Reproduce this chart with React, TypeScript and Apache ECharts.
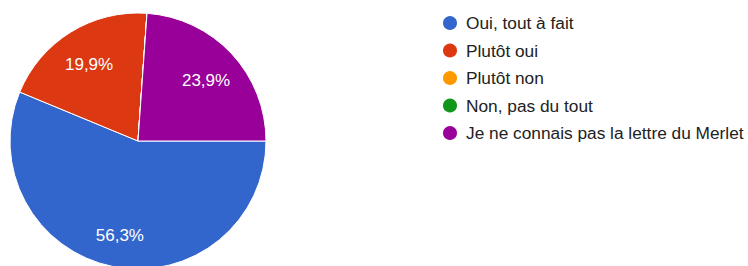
import React, { useEffect, useRef } from "react";
import * as echarts from "echarts";

const categories = [
  "Oui, tout à fait",
  "Plutôt oui",
  "Plutôt non",
  "Non, pas du tout",
  "Je ne connais pas la lettre du Merlet",
];
const values = [56.3, 19.9, 0, 0, 23.9];
const colors = ["#3366cc", "#dc3912", "#ff9900", "#109618", "#990099"];

const FONT = "Arial, 'Liberation Sans', sans-serif";

export default function App() {
  const ref = useRef<HTMLDivElement>(null);
  useEffect(() => {
    if (!ref.current) return;
    const chart = echarts.init(ref.current, undefined, { renderer: "svg" });
    const data = categories.map((name, i) => ({
      name,
      value: values[i],
      itemStyle: { color: colors[i] },
    }));
    chart.setOption({
      animation: false,
      backgroundColor: "#ffffff",
      legend: {
        orient: "vertical",
        left: 436,
        top: 9,
        icon: "circle",
        itemWidth: 22,
        itemHeight: 16,
        itemGap: 9.5,
        selectedMode: false,
        data: categories,
        textStyle: { fontFamily: FONT, fontSize: 17.3, color: "#222222" },
      },
      series: [
        {
          type: "pie",
          center: [138, 141],
          radius: [0, 128],
          startAngle: 0,
          clockwise: true,
          silent: true,
          label: { show: false },
          labelLine: { show: false },
          itemStyle: { borderColor: "#ffffff", borderWidth: 1 },
          emphasis: { disabled: true },
          data,
        },
        {
          type: "pie",
          center: [138, 141],
          radius: [52, 128],
          startAngle: 0,
          clockwise: true,
          silent: true,
          legendHoverLink: false,
          itemStyle: { color: "rgba(0,0,0,0)", borderWidth: 0 },
          label: {
            show: true,
            position: "inside",
            offset: [0, 3],
            fontFamily: FONT,
            fontSize: 17,
            color: "#ffffff",
            formatter: (p: any) =>
              p.value > 0 ? p.value.toFixed(1).replace(".", ",") + "%" : "",
          },
          labelLine: { show: false },
          emphasis: { disabled: true },
          data: categories.map((name, i) => ({
            name: name + " ",
            value: values[i],
            itemStyle: { color: "rgba(0,0,0,0)" },
          })),
        },
      ],
    });
    return () => chart.dispose();
  }, []);
  return (
    <div
      ref={ref}
      style={{ position: "fixed", left: 0, top: 0, width: 748, height: 266 }}
    />
  );
}
